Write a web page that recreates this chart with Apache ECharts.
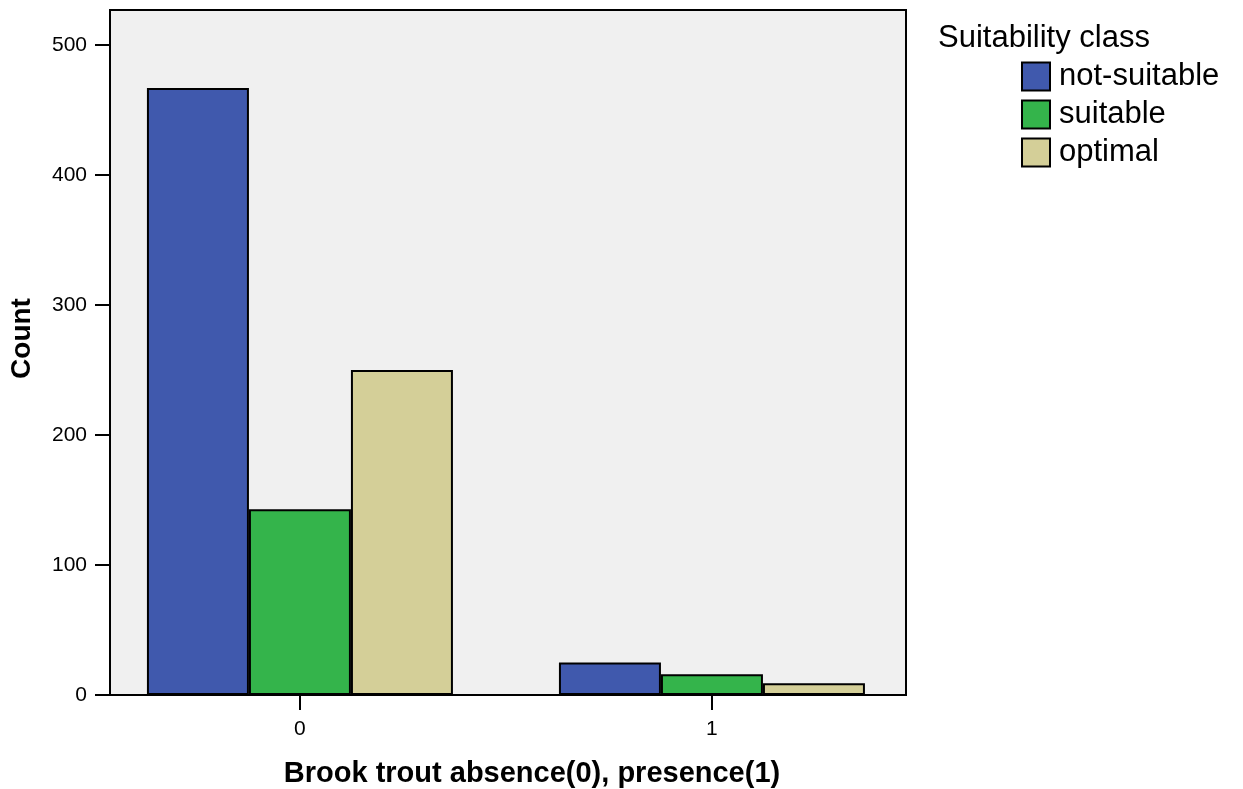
<!DOCTYPE html>
<html>
<head>
<meta charset="utf-8">
<script src="https://cdn.jsdelivr.net/npm/echarts@6/dist/echarts.min.js"></script>
<style>
  html, body { margin: 0; padding: 0; background: #fff; }
  #chart { width: 1243px; height: 789px; }
</style>
</head>
<body>
<div id="chart"></div>
<script>
const categories = [0, 1]
const classNames = ['not-suitable', 'suitable', 'optimal']
const notSuitable = [467, 25]
const suitable = [143, 16]
const optimal = [250, 9]
const yTicks = [0, 100, 200, 300, 400, 500]

const font = 'Liberation Sans, Arial, sans-serif'
const colors = ['#4059ad', '#34b44b', '#d4cf98']
const seriesValues = [notSuitable, suitable, optimal]

const chart = echarts.init(document.getElementById('chart'))

chart.setOption({
  animation: false,
  textStyle: { fontFamily: font },
  title: {
    text: 'Suitability class',
    left: 933,
    top: 18,
    textStyle: { fontSize: 31, fontWeight: 'normal', color: '#000', fontFamily: font }
  },
  legend: {
    orient: 'vertical',
    left: 1016,
    top: 56,
    itemWidth: 28,
    itemHeight: 28,
    itemGap: 7,
    icon: 'rect',
    data: classNames,
    textStyle: { fontSize: 31, color: '#000', fontFamily: font, padding: [0, 0, 0, 4] }
  },
  grid: {
    left: 110, top: 10, right: 337, bottom: 94,
    outerBoundsMode: 'none',
    show: true,
    backgroundColor: '#f0f0f0',
    borderColor: '#000',
    borderWidth: 2
  },
  xAxis: {
    type: 'value',
    min: -0.461,
    max: 1.471,
    name: 'Brook trout absence(0), presence(1)',
    nameLocation: 'middle',
    nameGap: 64,
    nameTextStyle: { fontSize: 29, fontWeight: 'bold', color: '#000', padding: [0, 0, 0, 48] },
    axisLine: { onZero: false, lineStyle: { color: '#000', width: 2 } },
    axisTick: { length: 15, lineStyle: { color: '#000', width: 2 }, customValues: categories },
    axisLabel: { fontSize: 21, color: '#000', margin: 24, customValues: categories },
    splitLine: { show: false }
  },
  yAxis: {
    type: 'value',
    min: 0,
    max: 527,
    name: 'Count',
    nameLocation: 'middle',
    nameGap: 74,
    nameTextStyle: { fontSize: 28, fontWeight: 'bold', color: '#000', padding: [0, 0, 0, 28] },
    axisLine: { show: true, onZero: false, lineStyle: { color: '#000', width: 2 } },
    axisTick: { show: true, length: 15, lineStyle: { color: '#000', width: 2 }, customValues: yTicks },
    axisLabel: { fontSize: 21, color: '#000', margin: 23, customValues: yTicks },
    splitLine: { show: false }
  },
  series: classNames.map((name, i) => ({
    name,
    type: 'bar',
    barWidth: 102,
    barGap: '0%',
    data: categories.map((c, j) => [c, seriesValues[i][j]]),
    itemStyle: { color: colors[i], borderColor: '#000', borderWidth: 2 }
  }))
})
</script>
</body>
</html>
